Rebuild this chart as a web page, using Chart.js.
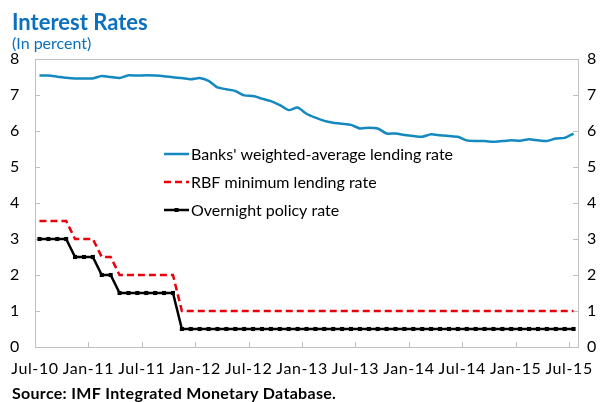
<!DOCTYPE html>
<html>
<head>
<meta charset="utf-8">
<script src="https://cdn.jsdelivr.net/npm/chart.js@4.4.1/dist/chart.umd.min.js"></script>
<style>
  html, body { margin: 0; padding: 0; background: #fff; }
  #wrap { width: 604px; height: 402px; }
</style>
</head>
<body>
<div id="wrap"><canvas id="rates" width="604" height="402"></canvas></div>
<script>
// Monthly observations, Jul-10 .. Jul-15 (61 months)
const lendingRate = [
  7.54, 7.54, 7.51, 7.48, 7.46, 7.46, 7.46, 7.53, 7.50, 7.47,
  7.55, 7.54, 7.55, 7.54, 7.52, 7.49, 7.47, 7.44, 7.47, 7.39,
  7.21, 7.16, 7.11, 6.99, 6.97, 6.90, 6.83, 6.72, 6.58, 6.65,
  6.48, 6.37, 6.28, 6.23, 6.20, 6.17, 6.07, 6.09, 6.07, 5.93,
  5.93, 5.89, 5.86, 5.84, 5.91, 5.88, 5.86, 5.84, 5.74, 5.72,
  5.72, 5.70, 5.72, 5.74, 5.73, 5.77, 5.74, 5.72, 5.79, 5.81,
  5.93
];
const minLendingRate = [
  3.5, 3.5, 3.5, 3.5, 3.0, 3.0, 3.0, 2.5, 2.5, 2.0,
  2.0, 2.0, 2.0, 2.0, 2.0, 2.0, 1.0, 1.0, 1.0, 1.0,
  1.0, 1.0, 1.0, 1.0, 1.0, 1.0, 1.0, 1.0, 1.0, 1.0,
  1.0, 1.0, 1.0, 1.0, 1.0, 1.0, 1.0, 1.0, 1.0, 1.0,
  1.0, 1.0, 1.0, 1.0, 1.0, 1.0, 1.0, 1.0, 1.0, 1.0,
  1.0, 1.0, 1.0, 1.0, 1.0, 1.0, 1.0, 1.0, 1.0, 1.0,
  1.0
];
const policyRate = [
  3.0, 3.0, 3.0, 3.0, 2.5, 2.5, 2.5, 2.0, 2.0, 1.5,
  1.5, 1.5, 1.5, 1.5, 1.5, 1.5, 0.5, 0.5, 0.5, 0.5,
  0.5, 0.5, 0.5, 0.5, 0.5, 0.5, 0.5, 0.5, 0.5, 0.5,
  0.5, 0.5, 0.5, 0.5, 0.5, 0.5, 0.5, 0.5, 0.5, 0.5,
  0.5, 0.5, 0.5, 0.5, 0.5, 0.5, 0.5, 0.5, 0.5, 0.5,
  0.5, 0.5, 0.5, 0.5, 0.5, 0.5, 0.5, 0.5, 0.5, 0.5,
  0.5
];
const tickLabels = ['Jul-10', 'Jan-11', 'Jul-11', 'Jan-12', 'Jul-12', 'Jan-13',
                    'Jul-13', 'Jan-14', 'Jul-14', 'Jan-15', 'Jul-15'];
const seriesNames = ["Banks' weighted-average lending rate", 'RBF minimum lending rate', 'Overnight policy rate'];

const FONT = 'Lato, "Open Sans", sans-serif';
const BLUE = '#1589bf';
const TITLE_BLUE = '#0b70be';
const FRAME = '#bfbfbf';

// x is measured in months from 1 Jul 2010; each observation sits mid-month
const toPoints = arr => arr.map((v, i) => ({ x: i + 0.5, y: v }));

// axis labels are set a little looser than the default
const spacingPlugin = {
  id: 'spacing',
  beforeDraw(chart) { chart.ctx.letterSpacing = '0.6px'; },
  beforeDatasetsDraw(chart) { chart.ctx.letterSpacing = '0px'; }
};

// gray box round the plot area with short inward tick marks
const framePlugin = {
  id: 'frame',
  beforeDatasetsDraw(chart) {
    const { ctx, chartArea: a, scales } = chart;
    ctx.save();
    ctx.strokeStyle = FRAME;
    ctx.lineWidth = 1;
    ctx.strokeRect(Math.round(a.left) + 0.5, Math.round(a.top) + 0.5,
                   Math.round(a.right - a.left), Math.round(a.bottom - a.top));
    ctx.beginPath();
    scales.x.ticks.forEach(t => {
      const px = Math.round(scales.x.getPixelForValue(t.value)) + 0.5;
      ctx.moveTo(px, a.bottom);
      ctx.lineTo(px, a.bottom - 5);
    });
    scales.y.ticks.forEach(t => {
      const py = Math.round(scales.y.getPixelForValue(t.value)) + 0.5;
      ctx.moveTo(a.left, py);
      ctx.lineTo(a.left + 5, py);
      ctx.moveTo(a.right, py);
      ctx.lineTo(a.right - 5, py);
    });
    ctx.stroke();
    ctx.restore();
  }
};

// title, unit note, source line and the in-plot legend
const textPlugin = {
  id: 'texts',
  afterDraw(chart) {
    const { ctx } = chart;
    ctx.save();
    ctx.textAlign = 'left';
    ctx.textBaseline = 'alphabetic';
    ctx.fillStyle = TITLE_BLUE;
    ctx.letterSpacing = '0px';
    ctx.font = 'bold 22px ' + FONT;
    ctx.fillText('Interest Rates', 12, 30);
    ctx.font = '16px ' + FONT;
    ctx.fillText('(In percent)', 12, 49);
    ctx.fillStyle = '#000';
    ctx.font = 'bold 16px ' + FONT;
    ctx.letterSpacing = '0.3px';
    ctx.fillText('Source: IMF Integrated Monetary Database.', 12, 399);
    ctx.letterSpacing = '0px';

    // legend rows
    const rows = [154, 182, 210];
    ctx.font = '16px ' + FONT;
    ctx.textBaseline = 'middle';
    chart.data.datasets.forEach((ds, k) => {
      const y = rows[k];
      ctx.beginPath();
      ctx.strokeStyle = ds.borderColor;
      ctx.lineWidth = ds.borderWidth;
      ctx.setLineDash(ds.borderDash || []);
      ctx.moveTo(164, y);
      ctx.lineTo(189, y);
      ctx.stroke();
      ctx.setLineDash([]);
      if (ds.pointRadius > 0) {
        ctx.fillStyle = ds.pointBackgroundColor;
        ctx.fillRect(174.5, y - 2, 4, 4);
      }
      ctx.fillStyle = '#000';
      ctx.fillText(ds.label, 191, y + 1);
    });
    ctx.restore();
  }
};

const yAxis = (pos, width, pad) => ({
  type: 'linear',
  position: pos,
  min: 0,
  max: 8,
  afterFit(s) { s.width = width; },
  ticks: { stepSize: 1, padding: pad, color: '#000', font: { family: FONT, size: 16 } },
  grid: { display: false, drawTicks: false },
  border: { display: false }
});

new Chart(document.getElementById('rates'), {
  type: 'line',
  data: {
    datasets: [
      {
        label: seriesNames[0],
        data: toPoints(lendingRate),
        borderColor: BLUE,
        borderWidth: 2.5,
        pointRadius: 0,
        tension: 0.2,
        yAxisID: 'y'
      },
      {
        label: seriesNames[1],
        data: toPoints(minLendingRate),
        borderColor: '#e8000b',
        borderWidth: 2.5,
        borderDash: [7, 4],
        pointRadius: 0,
        yAxisID: 'y'
      },
      {
        label: seriesNames[2],
        data: toPoints(policyRate),
        borderColor: '#000',
        borderWidth: 2.5,
        pointStyle: 'rect',
        pointRadius: 2.9,
        pointBackgroundColor: '#000',
        pointBorderWidth: 0,
        yAxisID: 'y'
      }
    ]
  },
  options: {
    responsive: false,
    animation: false,
    devicePixelRatio: 1,
    layout: { padding: { top: 59, left: 0, right: 0, bottom: 0 } },
    plugins: { legend: { display: false }, tooltip: { enabled: false } },
    scales: {
      x: {
        type: 'linear',
        min: 0,
        max: 61,
        afterFit(s) { s.height = 55; },
        afterBuildTicks(s) { s.ticks = tickLabels.map((_, k) => ({ value: k * 6 })); },
        ticks: {
          autoSkip: false,
          maxRotation: 0,
          padding: 12,
          color: '#000',
          font: { family: FONT, size: 16 },
          callback: (v, i) => tickLabels[i]
        },
        grid: { display: false, drawTicks: false },
        border: { display: false }
      },
      y: yAxis('left', 35, 15),
      y2: yAxis('right', 26, 9)
    }
  },
  plugins: [spacingPlugin, framePlugin, textPlugin]
});
</script>
</body>
</html>
